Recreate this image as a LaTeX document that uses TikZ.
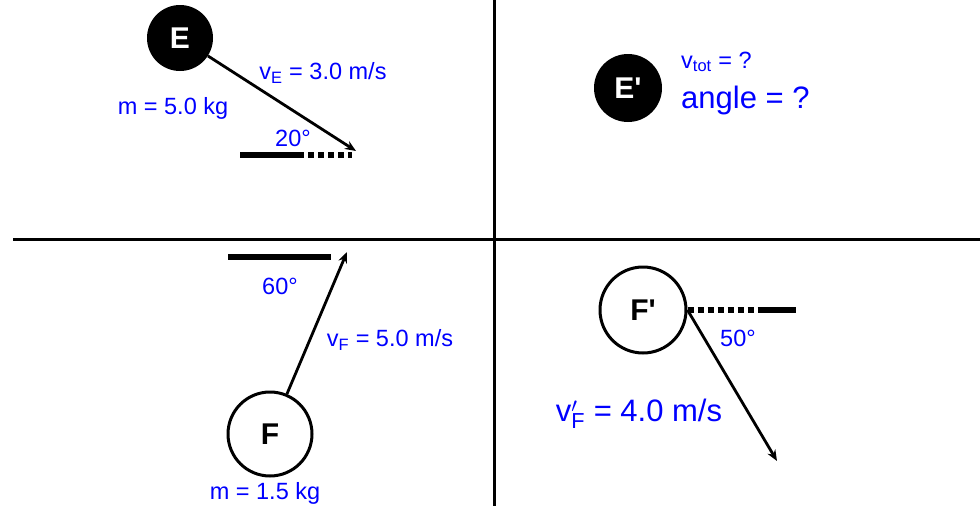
\documentclass[tikz,border=0pt]{standalone}
\usepackage{fontspec}
\setmainfont{Liberation Sans}
\usetikzlibrary{arrows.meta}
\begin{document}
\begin{tikzpicture}[x=1pt,y=-1pt,
  divider/.style={line width=3pt},
  vec/.style={line width=2.8pt,-{Stealth[length=11pt,width=9pt]}},
  refsolid/.style={line width=6pt},
  refdot/.style={line width=6pt,dash pattern=on 6pt off 4pt},
  blackball/.style={circle,fill=black,text=white,inner sep=0pt,font=\fontsize{30}{32}\selectfont\bfseries},
  whiteball/.style={circle,draw=black,line width=3pt,fill=white,text=black,inner sep=0pt,font=\fontsize{30}{32}\selectfont\bfseries},
  smalllab/.style={text=blue,inner sep=0pt,font=\fontsize{23.5}{25}\selectfont},
  biglab/.style={text=blue,inner sep=0pt,font=\fontsize{31}{33}\selectfont},
]
\useasboundingbox (0,0) rectangle (980,506);
\fill[white] (0,0) rectangle (980,506);
% dividers
\coordinate (vt) at (494,0);
\coordinate (vb) at (494,506);
\coordinate (hl) at (13,239);
\coordinate (hr) at (980,239);
\draw[divider] (vt) -- (vb);
\draw[divider] (hl) -- (hr);

% top left: E
\node[blackball,minimum size=66pt] (E) at (180,38) {E};
\coordinate (vEend) at (356,151);
\draw[vec] (E) -- (vEend);
\coordinate (r1a) at (240,155);
\coordinate (r1b) at (298,155);
\coordinate (r1c) at (352,155);
\draw[refsolid] (r1a) -- (r1b);
\draw[refdot] (r1b) -- (r1c);
\node[smalllab] (vE) at (323,73) {v$_\mathrm{E}$ = 3.0 m/s};
\node[smalllab] (mE) at (173,108) {m = 5.0 kg};
\node[smalllab] (a20) at (293,138) {20°};

% top right: E'
\node[blackball,minimum size=68pt] (Ep) at (628,88) {E\textquotesingle};
\node[smalllab,anchor=west] (vtot) at (681,62) {v$_\mathrm{tot}$ = ?};
\node[biglab,anchor=west] (ang) at (681,100) {angle = ?};

% bottom left: F
\node[whiteball,minimum size=84pt] (F) at (270,434) {F};
\coordinate (vFend) at (347,252);
\coordinate (r2a) at (228,257);
\coordinate (r2b) at (331,257);
\draw[refsolid] (r2a) -- (r2b);
\draw[vec] (F) -- (vFend);
\node[smalllab] (a60) at (280,286) {60°};
\node[smalllab] (vF) at (390,340) {v$_\mathrm{F}$ = 5.0 m/s};
\node[smalllab] (mF) at (265,493) {m = 1.5 kg};

% bottom right: F'
\node[whiteball,minimum size=86pt] (Fp) at (643,310) {F\textquotesingle};
\coordinate (r3b) at (762,310);
\coordinate (r3c) at (796,310);
\draw[refdot] (Fp.east) -- (r3b);
\draw[refsolid] (r3b) -- (r3c);
\coordinate (vFpend) at (777,461);
\draw[vec] (Fp.east) -- (vFpend);
\node[smalllab] (a50) at (738,338) {50°};
\node[biglab] (vFp) at (639,414) {v$_\mathrm{F}'$ = 4.0 m/s};
\end{tikzpicture}
\end{document}
